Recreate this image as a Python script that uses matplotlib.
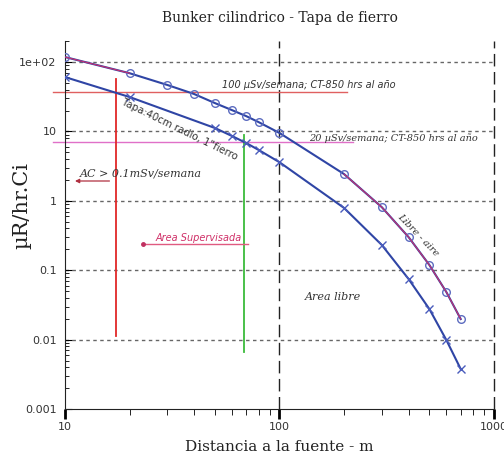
import numpy as np
import matplotlib
matplotlib.use("Agg")
import matplotlib.pyplot as plt
from matplotlib.ticker import FixedLocator, NullFormatter, LogLocator

# datos (uR/hr.Ci vs distancia en m)
dist_libre = [10, 20, 30, 40, 50, 60, 70, 80, 100, 200, 300, 400, 500, 600, 700]
rate_libre = [118, 69, 46.7, 34.6, 25.6, 20.3, 16.6, 13.6, 9.5, 2.43, 0.81, 0.30, 0.119, 0.0485, 0.0198]
dist_tapa = [10, 20, 50, 60, 70, 80, 100, 200, 300, 400, 500, 600, 700]
rate_tapa = [60.7, 31.3, 11.2, 8.6, 6.8, 5.4, 3.6, 0.79, 0.231, 0.0747, 0.0276, 0.00987, 0.00377]

lim_100 = 37.0     # 100 uSv/semana
lim_20 = 7.0       # 20 uSv/semana
x_ac = 17.3        # limite area controlada
x_sup = 68.3       # limite area supervisada

yticks = [0.001, 0.01, 0.1, 1, 10, 100]
ylabels = ["0.001", "0.01", "0.1", "1", "10", "1e+02"]
xticks = [10, 100, 1000]
xlabels = ["10", "100", "1000"]

blue = "#2f45a5"
fig = plt.figure(figsize=(5.04, 4.57), dpi=100)
ax = fig.add_axes([0.129, 0.105, 0.851, 0.805])
ax.set_xscale("log")
ax.set_yscale("log")
ax.set_xlim(10, 1000)
ax.set_ylim(0.001, 200)

# grilla
for yv in yticks[1:]:
    ax.plot([10, 1000], [yv, yv], color="#666666", lw=1, dashes=(2.5, 2.5), zorder=1)
for xv in [100, 1000]:
    ax.plot([xv, xv], [0.001, 200], color="#222222", lw=1, dashes=(9, 4), zorder=1, clip_on=False)

# lineas de referencia
ax.plot([8.8, 206], [lim_100, lim_100], color="#e06060", lw=1, clip_on=False, zorder=2)
ax.plot([8.8, 220], [lim_20, lim_20], color="#e070c8", lw=1, clip_on=False, zorder=2)
ax.plot([x_ac, x_ac], [0.0112, 57], color="#e02828", lw=1.3, zorder=2)
ax.plot([x_sup, x_sup], [0.0066, 8.9], color="#3cbb3c", lw=1.3, zorder=2)

# curvas
ax.plot(dist_libre, rate_libre, color=blue, lw=1.5, marker="o", ms=5.5,
        mfc="none", mec="#5d6cc0", mew=1, zorder=3)
ax.plot(dist_libre[:2], rate_libre[:2], color="#c83070", lw=0.8, zorder=4)
ax.plot(dist_libre[9:], rate_libre[9:], color="#c83070", lw=0.8, zorder=4)
ax.plot(dist_tapa, rate_tapa, color=blue, lw=1.5, marker="x", ms=6,
        mec="#4a5cbc", mew=1, zorder=3)

# textos
ax.text(54, 46.6, "100 \u00b5Sv/semana; CT-850 hrs al a\u00f1o", fontsize=7, style="italic",
        color="#333333", va="center", ha="left")
ax.text(137, 8.0, "20 \u00b5Sv/semana; CT-850 hrs al a\u00f1o", fontsize=7, style="italic",
        family="DejaVu Serif", color="#333333", va="center", ha="left")
ax.text(11.7, 2.5, "AC > 0.1mSv/semana", fontsize=8, style="italic", family="DejaVu Serif",
        color="#333333", va="center", ha="left")
ax.annotate("", xy=(10.8, 1.93), xytext=(16.6, 1.93),
            arrowprops=dict(arrowstyle="-|>", color="#b03040", lw=0.9, mutation_scale=6))
ax.text(26.3, 0.291, "Area Supervisada", fontsize=7, style="italic", color="#d03068",
        va="center", ha="left")
ax.plot([23.1, 71.4], [0.239, 0.239], color="#e05a80", lw=1)
ax.plot([23.1], [0.239], marker="o", ms=2.5, color="#c03060")
ax.text(131, 0.041, "Area libre", fontsize=8, style="italic", family="DejaVu Serif",
        color="#333333", va="center", ha="left")
ax.text(34.4, 10.8, "Tapa:40cm radio, 1\"fierro", fontsize=7.3, rotation=-26,
        rotation_mode="anchor", color="#333333", va="center", ha="center")
ax.text(442, 0.32, "Libre - aire", fontsize=7, rotation=-46, style="italic", family="DejaVu Serif",
        rotation_mode="anchor", color="#333333", va="center", ha="center")

# ejes
for s in ["top", "right"]:
    ax.spines[s].set_visible(False)
ax.spines["left"].set_color("#222222")
ax.spines["bottom"].set_color("#222222")
ax.yaxis.set_major_locator(FixedLocator(yticks))
ax.set_yticklabels(ylabels)
ax.yaxis.set_minor_locator(LogLocator(base=10, subs=np.arange(2, 10), numticks=20))
ax.yaxis.set_minor_formatter(NullFormatter())
ax.xaxis.set_major_locator(FixedLocator(xticks))
ax.set_xticklabels(xlabels)
ax.xaxis.set_minor_locator(LogLocator(base=10, subs=np.arange(2, 10), numticks=20))
ax.xaxis.set_minor_formatter(NullFormatter())
ax.tick_params(axis="y", which="major", direction="in", length=5, pad=6, labelsize=8, labelcolor="#333333")
ax.tick_params(axis="y", which="minor", direction="in", length=3)
ax.tick_params(axis="x", which="major", direction="out", length=7, width=2, pad=2, labelsize=8, labelcolor="#333333")
ax.tick_params(axis="x", which="minor", direction="out", length=4)

ax.set_title("Bunker cilindrico - Tapa de fierro", family="DejaVu Serif", fontsize=10,
             color="#222222", pad=14)
ax.title.set_position((0.5, 1.0))
ax.set_xlabel("Distancia a la fuente - m", family="DejaVu Serif", fontsize=11, color="#222222")
ax.xaxis.set_label_coords(0.5, -0.103)
ax.xaxis.label.set_va("center")
ax.set_ylabel("\u00b5R/hr.Ci", family="DejaVu Serif", fontsize=15, color="#222222")
ax.yaxis.set_label_coords(-0.100, 0.554)
ax.yaxis.label.set_va("center")

fig.savefig("out.png", dpi=100)
